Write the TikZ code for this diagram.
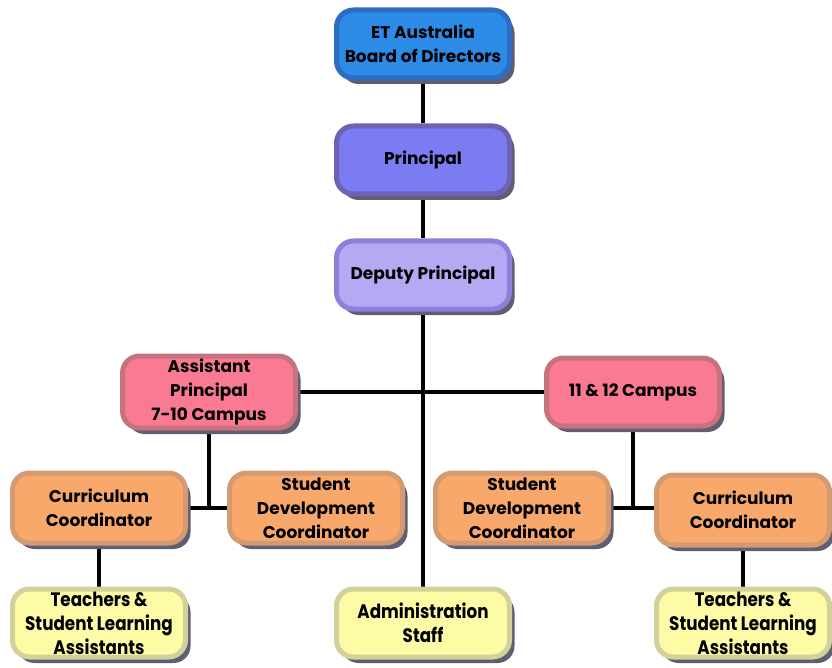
\documentclass[tikz,border=0pt]{standalone}
\usepackage{fontspec}
\setmainfont{Poppins}
\newfontfamily\narrowfont[FakeStretch=0.86]{Poppins}
\usetikzlibrary{shadows,backgrounds}
\definecolor{boardblue}{HTML}{2B8BE6}
\definecolor{boardedge}{HTML}{2E6DC2}
\definecolor{princfill}{HTML}{7B7BF2}
\definecolor{princedge}{HTML}{6D63B2}
\definecolor{depfill}{HTML}{B4AAF3}
\definecolor{depedge}{HTML}{8D80D8}
\definecolor{campfill}{HTML}{FB7A93}
\definecolor{campedge}{HTML}{C7727F}
\definecolor{coordfill}{HTML}{F7A86A}
\definecolor{coordedge}{HTML}{D49A72}
\definecolor{stafffill}{HTML}{FDFBA6}
\definecolor{staffedge}{HTML}{D3D19A}
\definecolor{shadowgray}{HTML}{5F5E72}
\newcommand{\BoxW}{173}
\newcommand{\BoxH}{68}

\begin{document}
\begin{tikzpicture}[x=1pt,y=-1pt,
  box/.style={rectangle, rounded corners=17pt, line width=5pt,
    minimum width=\BoxW pt, minimum height=\BoxH pt, align=center,
    inner sep=0pt, font=\fontsize{17}{24}\selectfont\bfseries,
    drop shadow={shadow xshift=5pt, shadow yshift=-6pt, fill=shadowgray, opacity=1}},
  staff/.style={box, fill=stafffill, draw=staffedge,
    font=\fontsize{19.5}{24}\selectfont\narrowfont\bfseries},
  link/.style={line width=4pt, black}]

\useasboundingbox (0,0) rectangle (832,668);

% top of the tree
\node [box, fill=boardblue, draw=boardedge] (board) at (423,44) {ET Australia\\Board of Directors};
\node [box, fill=princfill, draw=princedge] (princ) at (423,160) {Principal};
\node [box, fill=depfill, draw=depedge] (deputy) at (423,275) {Deputy Principal};

% campuses
\node [box, fill=campfill, draw=campedge, minimum height=72pt] (asst) at (209,392) {Assistant\\Principal\\7-10 Campus};
\node [box, fill=campfill, draw=campedge] (senior) at (633,392) {11 \& 12 Campus};

% coordinators
\node [box, fill=coordfill, draw=coordedge, minimum height=70pt] (currl) at (99,508) {Curriculum\\Coordinator};
\node [box, fill=coordfill, draw=coordedge, minimum height=70pt] (devl) at (316,508) {Student\\Development\\Coordinator};
\node [box, fill=coordfill, draw=coordedge, minimum height=70pt] (devr) at (522,508) {Student\\Development\\Coordinator};
\node [box, fill=coordfill, draw=coordedge, minimum height=70pt] (currr) at (743,510) {Curriculum\\Coordinator};

% staff
\node [staff] (teachl) at (99,623) {Teachers \&\\Student Learning\\Assistants};
\node [staff] (admin) at (423,623) {Administration\\Staff};
\node [staff] (teachr) at (743,623) {Teachers \&\\Student Learning\\Assistants};

\begin{scope}[on background layer]
\draw [link] (board) -- (princ);
\draw [link] (princ) -- (deputy);
\draw [link] (deputy) -- (admin);
\draw [link] (asst.east) -- (senior.west);
\coordinate (jl) at (asst.south |- currl.east);
\draw [link] (asst.south) -- (jl);
\draw [link] (currl.east) -- (devl.west);
\coordinate (jr) at (senior.south |- devr.east);
\draw [link] (senior.south) -- (jr);
\draw [link] (devr.east) -- (currr.west |- devr.east);
\draw [link] (currl) -- (teachl);
\draw [link] (currr) -- (teachr);
\end{scope}

\end{tikzpicture}
\end{document}
